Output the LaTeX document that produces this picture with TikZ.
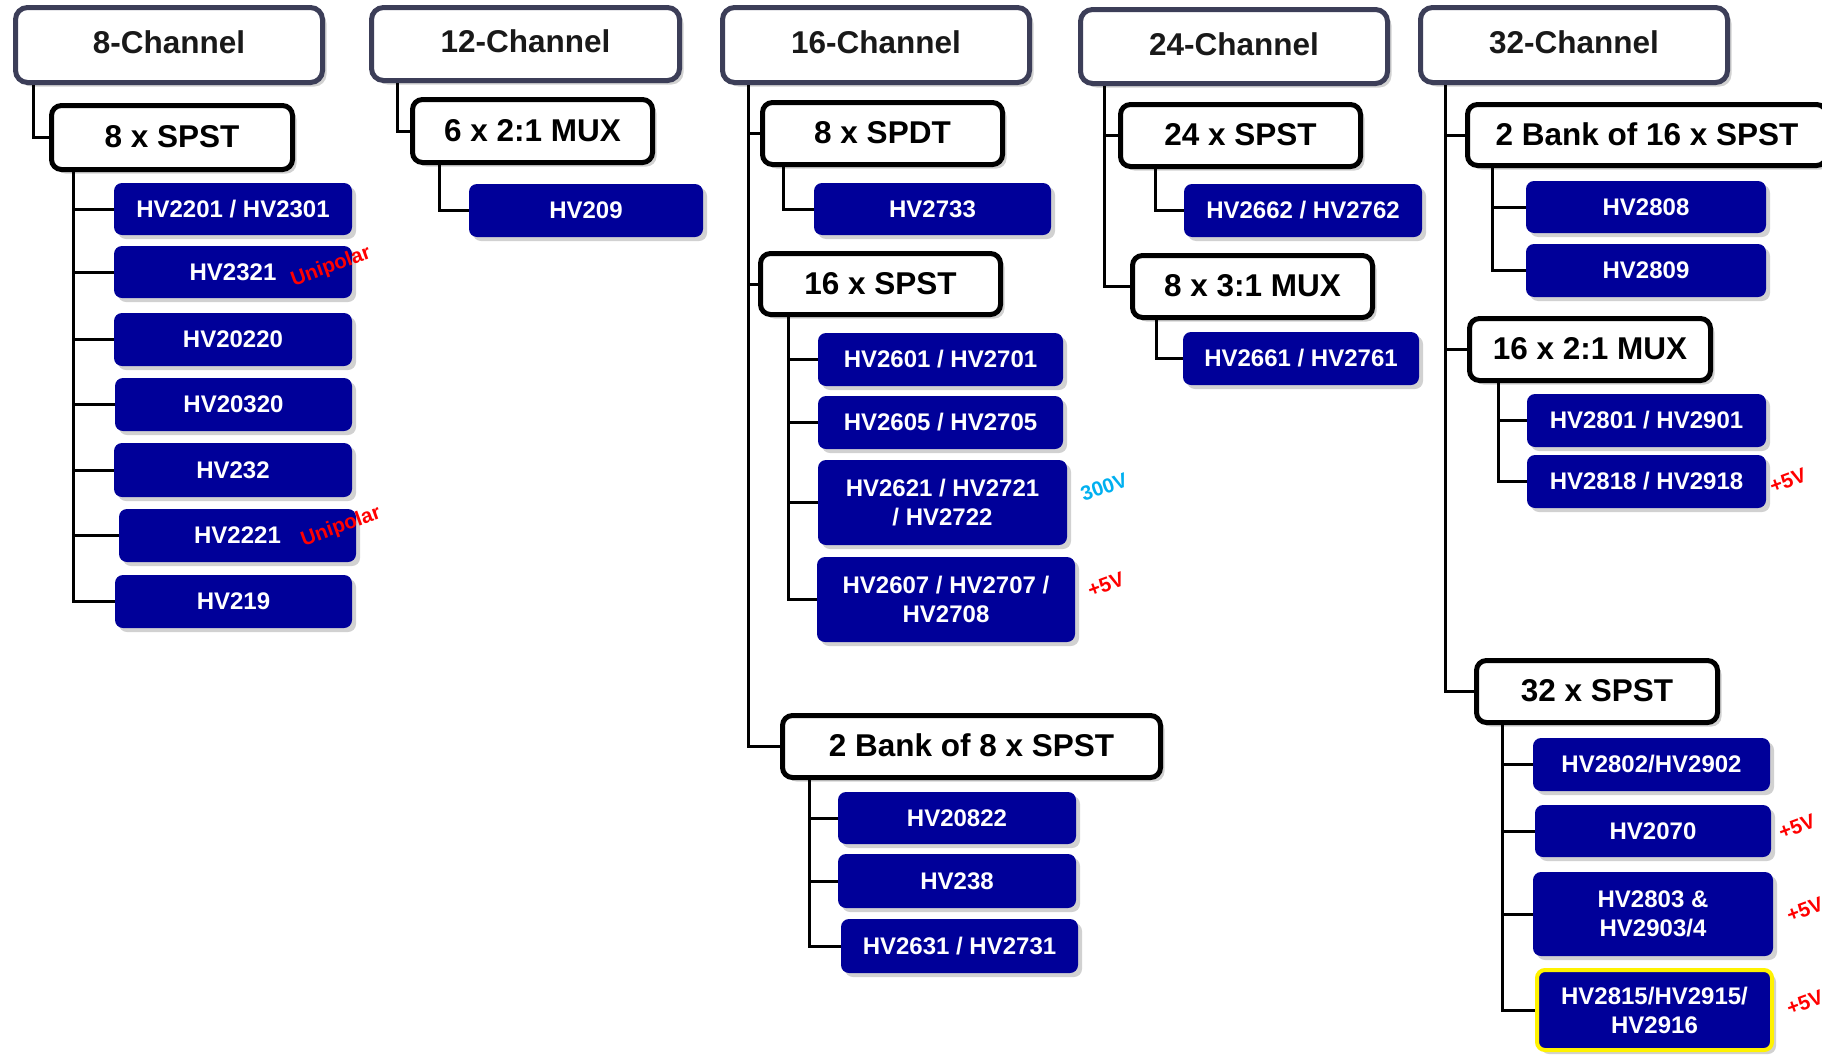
\documentclass[tikz,border=0pt]{standalone}
\usepackage{fontspec}
\setmainfont{Liberation Sans}
\usetikzlibrary{shadows}
\definecolor{hvblue}{RGB}{0,0,153}
\definecolor{topedge}{RGB}{60,62,88}
\definecolor{vcyan}{RGB}{0,176,240}
\newcommand\bx[8][0]{%
 \pgfmathsetmacro\bxcx{(#4+#6)/2}%
 \pgfmathsetmacro\bxcy{-(#5+#7)/2}%
 \pgfmathsetmacro\bxw{#6-#4-#1}%
 \pgfmathsetmacro\bxh{#7-#5-#1}%
 \node[#2, minimum width=\bxw pt, minimum height=\bxh pt] (#3) at (\bxcx pt,\bxcy pt) {#8};}
\tikzset{
 mysh/.style={drop shadow={shadow xshift=4pt, shadow yshift=-4pt, opacity=0.3, fill=black!60}},
 topbox/.style={draw=topedge, line width=5pt, fill=white, rounded corners=12pt, inner sep=0pt, font=\fontsize{31.5}{36}\selectfont\bfseries, text=black!90, text depth=5pt, mysh},
 subbox/.style={draw=black, line width=5pt, fill=white, rounded corners=10pt, inner sep=0pt, font=\fontsize{31.5}{36}\selectfont\bfseries, text depth=2pt, mysh},
 part/.style={fill=hvblue, text=white, rounded corners=8pt, inner sep=0pt, align=center, font=\fontsize{24}{29}\selectfont\bfseries, mysh},
 hilite/.style={part, draw=yellow, line width=4pt},
 conn/.style={line width=3pt, draw=black},
 note/.style={font=\fontsize{20.5}{24}\selectfont\bfseries, text=red, rotate=20, inner sep=0pt},
}
\begin{document}
\begin{tikzpicture}
\useasboundingbox (0,0) rectangle (1822pt,-1055pt);
% ---------- 8-Channel ----------
\bx[5]{topbox}{c8}{13}{5}{325}{85}{8-Channel}
\bx[5]{subbox}{s8}{49}{103}{295}{172}{8 x SPST}
\bx{part}{a1}{114}{183}{352}{235}{HV2201 / HV2301}
\bx{part}{a2}{114}{246}{352}{298}{HV2321}
\bx{part}{a3}{114}{313}{352}{366}{HV20220}
\bx{part}{a4}{115}{378}{352}{431}{HV20320}
\bx{part}{a5}{114}{443}{352}{497}{HV232}
\bx{part}{a6}{119}{509}{356}{562}{HV2221}
\bx{part}{a7}{115}{575}{352}{628}{HV219}
\draw[conn] ([xshift=20pt]c8.south west) |- (s8.west);
\foreach \n in {a1,a2,a3,a4,a5,a6,a7}
  \draw[conn] ([xshift=24pt]s8.south west) |- (\n.west);
\node[note] (u1) at (331pt,-267pt) {Unipolar};
\node[note] (u2) at (341pt,-527pt) {Unipolar};
% ---------- 12-Channel ----------
\bx[5]{topbox}{c12}{369}{5}{682}{83}{12-Channel}
\bx[5]{subbox}{s12}{410}{97}{655}{165}{6 x 2:1 MUX}
\bx{part}{b1}{469}{184}{703}{237}{HV209}
\draw[conn] ([xshift=28pt]c12.south west) |- (s12.west);
\draw[conn] ([xshift=29pt]s12.south west) |- (b1.west);
% ---------- 16-Channel ----------
\bx[5]{topbox}{c16}{720}{5}{1032}{85}{16-Channel}
\bx[5]{subbox}{spdt}{760}{100}{1005}{167}{8 x SPDT}
\bx[5]{subbox}{s16}{758}{251}{1003}{317}{16 x SPST}
\bx[5]{subbox}{bank8}{780}{713}{1163}{780}{2 Bank of 8 x SPST}
\bx{part}{d1}{814}{183}{1051}{235}{HV2733}
\bx{part}{e1}{818}{333}{1063}{386}{HV2601 / HV2701}
\bx{part}{e2}{818}{396}{1063}{449}{HV2605 / HV2705}
\bx{part}{e3}{818}{460}{1067}{545}{HV2621 / HV2721\\/ HV2722}
\bx{part}{e4}{817}{557}{1075}{642}{HV2607 / HV2707 /\\HV2708}
\bx{part}{f1}{838}{792}{1076}{844}{HV20822}
\bx{part}{f2}{838}{854}{1076}{908}{HV238}
\bx{part}{f3}{841}{919}{1078}{973}{HV2631 / HV2731}
\foreach \n in {spdt,s16,bank8}
  \draw[conn] ([xshift=28pt]c16.south west) |- (\n.west);
\draw[conn] ([xshift=23pt]spdt.south west) |- (d1.west);
\foreach \n in {e1,e2,e3,e4}
  \draw[conn] ([xshift=30pt]s16.south west) |- (\n.west);
\foreach \n in {f1,f2,f3}
  \draw[conn] ([xshift=29pt]bank8.south west) |- (\n.west);
\node[note, text=vcyan] (v300) at (1104pt,-487pt) {300V};
\node[note] (p1) at (1106pt,-585pt) {+5V};
% ---------- 24-Channel ----------
\bx[5]{topbox}{c24}{1078}{7}{1390}{86}{24-Channel}
\bx[5]{subbox}{s24}{1118}{102}{1363}{169}{24 x SPST}
\bx[5]{subbox}{mux3}{1130}{253}{1375}{320}{8 x 3:1 MUX}
\bx{part}{g1}{1184}{184}{1422}{237}{HV2662 / HV2762}
\bx{part}{g2}{1183}{332}{1419}{385}{HV2661 / HV2761}
\foreach \n in {s24,mux3}
  \draw[conn] ([xshift=26pt]c24.south west) |- (\n.west);
\draw[conn] ([xshift=37pt]s24.south west) |- (g1.west);
\draw[conn] ([xshift=26pt]mux3.south west) |- (g2.west);
% ---------- 32-Channel ----------
\bx[5]{topbox}{c32}{1418}{5}{1730}{85}{32-Channel}
\bx[5]{subbox}{bank16}{1465}{102}{1829}{168}{2 Bank of 16 x SPST}
\bx[5]{subbox}{mux2}{1467}{316}{1713}{383}{16 x 2:1 MUX}
\bx[5]{subbox}{s32}{1474}{658}{1720}{725}{32 x SPST}
\bx{part}{h1}{1526}{181}{1766}{233}{HV2808}
\bx{part}{h2}{1526}{244}{1766}{297}{HV2809}
\bx{part}{i1}{1527}{394}{1766}{447}{HV2801 / HV2901}
\bx{part}{i2}{1527}{455}{1766}{508}{HV2818 / HV2918}
\bx{part}{j1}{1533}{738}{1770}{791}{HV2802/HV2902}
\bx{part}{j2}{1535}{805}{1771}{857}{HV2070}
\bx{part}{j3}{1533}{872}{1773}{956}{HV2803 \&\\HV2903/4}
\bx[4]{hilite}{j4}{1535}{968}{1774}{1052}{HV2815/HV2915/\\HV2916}
\foreach \n in {bank16,mux2,s32}
  \draw[conn] ([xshift=27pt]c32.south west) |- (\n.west);
\foreach \n in {h1,h2}
  \draw[conn] ([xshift=27pt]bank16.south west) |- (\n.west);
\foreach \n in {i1,i2}
  \draw[conn] ([xshift=31pt]mux2.south west) |- (\n.west);
\foreach \n in {j1,j2,j3,j4}
  \draw[conn] ([xshift=28pt]s32.south west) |- (\n.west);
\node[note] (p2) at (1788pt,-481pt) {+5V};
\node[note] (p3) at (1797pt,-827pt) {+5V};
\node[note] (p4) at (1805pt,-910pt) {+5V};
\node[note] (p5) at (1805pt,-1003pt) {+5V};
\end{tikzpicture}
\end{document}
